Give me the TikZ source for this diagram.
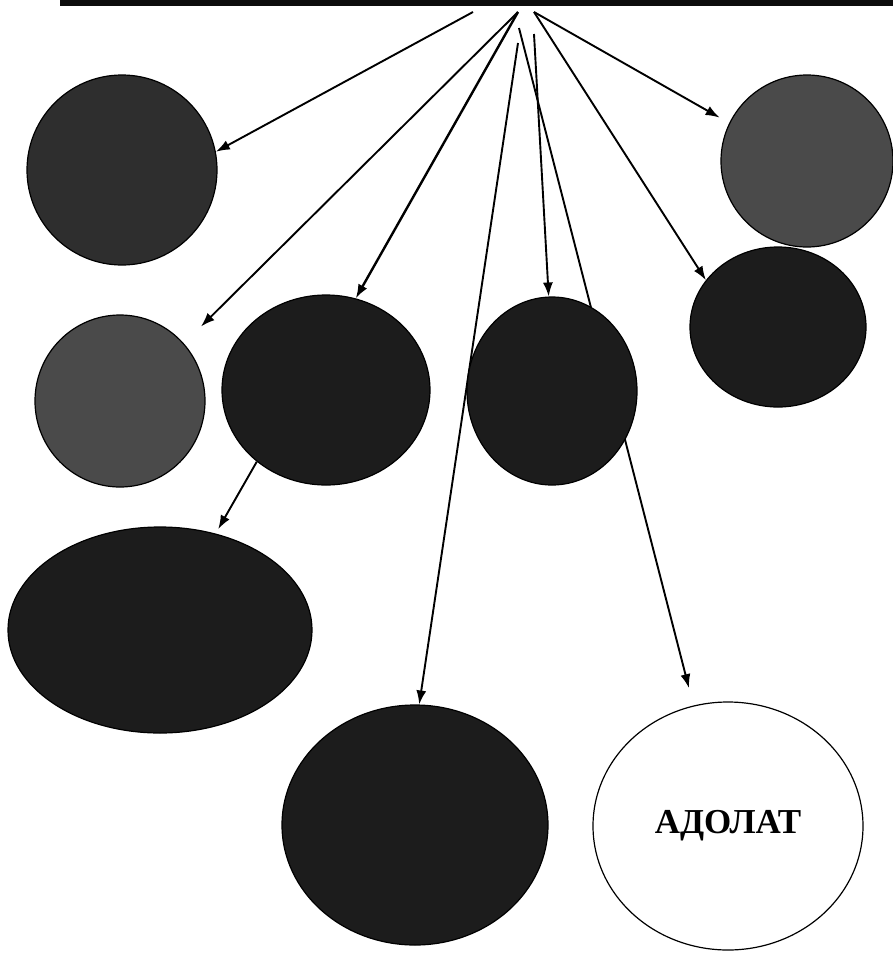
\documentclass[tikz,border=0pt]{standalone}
\usepackage{fontspec}
\newfontfamily\cyrserif{Liberation Serif}
\usetikzlibrary{shapes.geometric,backgrounds,arrows.meta}
\definecolor{barc}{gray}{0.05}
\definecolor{gdark}{gray}{0.11}
\definecolor{gmid}{gray}{0.18}
\definecolor{glight}{gray}{0.29}
\begin{document}
\begin{tikzpicture}[x=1pt,y=-1pt,
  blob/.style={ellipse,draw=black,line width=1.2pt,inner sep=0pt},
  conn/.style={draw=black,line width=1.9pt,-{Latex[length=14pt,width=10pt]}}]
\useasboundingbox (0,0) rectangle (893,954);
% top bar
\fill[barc] (60,0) rectangle (893,6);
% origins of connectors under the bar
\coordinate (o1) at (473,12);
\coordinate (o2) at (518,12);
\coordinate (o3) at (519,28);
\coordinate (o4) at (518,43);
\coordinate (o5) at (534,34);
\coordinate (o6) at (534,12);
% circles
\node[blob,fill=gmid,minimum width=190pt,minimum height=190pt] (C1) at (122,170) {};
\node[blob,fill=glight,minimum width=172pt,minimum height=172pt] (C2) at (807,161) {};
\node[blob,fill=gdark,minimum width=176pt,minimum height=160pt] (C3) at (778,327) {};
\node[blob,fill=glight,minimum width=170pt,minimum height=172pt] (C4) at (120,401) {};
\node[blob,fill=gdark,minimum width=208pt,minimum height=190pt] (C5) at (326,390) {};
\node[blob,fill=gdark,minimum width=170pt,minimum height=188pt] (C6) at (552,391) {};
\node[blob,fill=gdark,minimum width=304pt,minimum height=206pt] (C7) at (160,630) {};
\node[blob,fill=gdark,minimum width=266pt,minimum height=240pt] (C8) at (415,825) {};
\node[blob,fill=white,minimum width=270pt,minimum height=248pt,
      font=\cyrserif\bfseries\fontsize{35}{35}\selectfont] (C9) at (728,826) {АДОЛАТ};
% connectors
\begin{scope}[on background layer]
\draw[conn] (o1) -- (C1.11);
\draw[conn,shorten >=24pt] (o2) -- (C4.42);
\draw[conn,line width=2.4pt] (o2) -- (C5.72);
\draw[conn,shorten >=18pt] (o3) -- (C9.106);
\draw[conn] (o4) -- (C8.88);
\draw[conn] (o5) -- (C6.92);
\draw[conn] (o6) -- (C3.147);
\draw[conn,shorten >=11pt] (o6) -- (C2.154);
\draw[conn,shorten >=5pt] (C5.226) -- (C7.60);
\end{scope}
\end{tikzpicture}
\end{document}
